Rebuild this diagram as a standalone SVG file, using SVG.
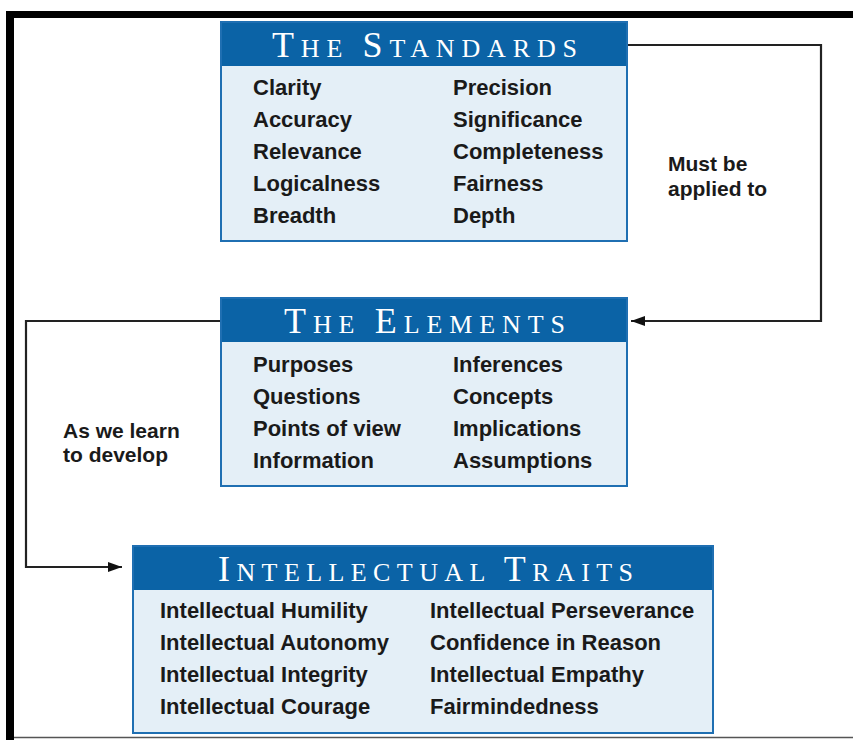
<svg xmlns="http://www.w3.org/2000/svg" width="853" height="740" viewBox="0 0 853 740">
<defs>
<style>
.box{fill:#e4eff7;stroke:#1f6fb2;stroke-width:2}
.hdr{fill:#0b63a6}
.title{font-family:"Liberation Serif","Times New Roman",serif;fill:#ffffff}
.big{font-size:36px}
.sm{font-size:26px}
.item{font-family:"Liberation Sans",Arial,sans-serif;font-weight:bold;font-size:22px;fill:#1a1a1a}
.lbl{font-family:"Liberation Sans",Arial,sans-serif;font-weight:bold;font-size:21px;fill:#1a1a1a}
.conn{fill:none;stroke:#222222;stroke-width:2.2}
</style>
<marker id="arr" viewBox="0 0 14 10" refX="14" refY="5" markerWidth="14" markerHeight="10" markerUnits="userSpaceOnUse" orient="auto">
<path d="M0,0 L14,5 L0,10 Z" fill="#111111"/>
</marker>
</defs>
<rect x="0" y="0" width="853" height="740" fill="#ffffff"/>
<g id="frame">
<rect x="6" y="11" width="847" height="7" fill="#000000"/>
<rect x="6" y="11" width="8" height="729" fill="#000000"/>
<line x1="14" y1="737.5" x2="853" y2="737.5" stroke="#555555" stroke-width="1.5"/>
</g>
<g id="connectors">
<path class="conn" d="M627,45 H821 V321 H631" marker-end="url(#arr)"/>
<path class="conn" d="M221,321 H26 V567 H122" marker-end="url(#arr)"/>
<text class="lbl" x="668" y="171">Must be</text>
<text class="lbl" x="668" y="196">applied to</text>
<text class="lbl" x="63" y="438">As we learn</text>
<text class="lbl" x="63" y="462">to develop</text>
</g>
<g id="standards">
<rect class="box" x="221" y="22" width="406" height="219"/>
<rect class="hdr" x="222" y="23" width="404" height="43"/>
<text class="title" x="272" y="57" textLength="305" lengthAdjust="spacing"><tspan class="big">T</tspan><tspan class="sm">HE </tspan><tspan class="big">S</tspan><tspan class="sm">TANDARDS</tspan></text>
<text class="item" x="253" y="95">Clarity</text>
<text class="item" x="253" y="127">Accuracy</text>
<text class="item" x="253" y="159">Relevance</text>
<text class="item" x="253" y="191">Logicalness</text>
<text class="item" x="253" y="223">Breadth</text>
<text class="item" x="453" y="95">Precision</text>
<text class="item" x="453" y="127">Significance</text>
<text class="item" x="453" y="159">Completeness</text>
<text class="item" x="453" y="191">Fairness</text>
<text class="item" x="453" y="223">Depth</text>
</g>
<g id="elements">
<rect class="box" x="221" y="298" width="406" height="188"/>
<rect class="hdr" x="222" y="299" width="404" height="43"/>
<text class="title" x="284" y="333" textLength="281" lengthAdjust="spacing"><tspan class="big">T</tspan><tspan class="sm">HE </tspan><tspan class="big">E</tspan><tspan class="sm">LEMENTS</tspan></text>
<text class="item" x="253" y="372">Purposes</text>
<text class="item" x="253" y="404">Questions</text>
<text class="item" x="253" y="436">Points of view</text>
<text class="item" x="253" y="468">Information</text>
<text class="item" x="453" y="372">Inferences</text>
<text class="item" x="453" y="404">Concepts</text>
<text class="item" x="453" y="436">Implications</text>
<text class="item" x="453" y="468">Assumptions</text>
</g>
<g id="traits">
<rect class="box" x="133" y="546" width="580" height="187"/>
<rect class="hdr" x="134" y="547" width="578" height="43"/>
<text class="title" x="218" y="581" textLength="415" lengthAdjust="spacing"><tspan class="big">I</tspan><tspan class="sm">NTELLECTUAL </tspan><tspan class="big">T</tspan><tspan class="sm">RAITS</tspan></text>
<text class="item" x="160" y="618">Intellectual Humility</text>
<text class="item" x="160" y="650">Intellectual Autonomy</text>
<text class="item" x="160" y="682">Intellectual Integrity</text>
<text class="item" x="160" y="714">Intellectual Courage</text>
<text class="item" x="430" y="618">Intellectual Perseverance</text>
<text class="item" x="430" y="650">Confidence in Reason</text>
<text class="item" x="430" y="682">Intellectual Empathy</text>
<text class="item" x="430" y="714">Fairmindedness</text>
</g>
</svg>
